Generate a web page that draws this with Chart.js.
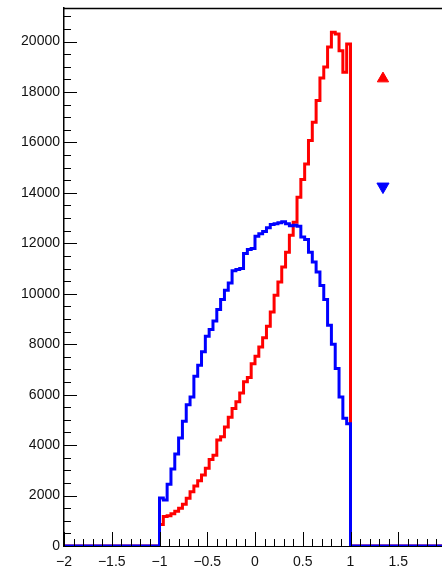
<!DOCTYPE html>
<html lang="en">
<head>
    <meta charset="UTF-8">
    <title>Histogram</title>
    <script src="https://cdn.jsdelivr.net/npm/chart.js"></script>
    <style>
        html, body { margin: 0; padding: 0; overflow: hidden; background: #fff; }
        canvas { display: block; }
    </style>
</head>
<body>
    <canvas id="histChart" width="454" height="575"></canvas>

    <script>
        // histogram binning: 100 bins from -2 to 2, only [-1, 1] is filled
        const axisMin = -2;
        const axisMax = 2;
        const firstEdge = -1;
        const binWidth = 0.04;

        // bin contents, lowest bin first
        const redCounts = [
            850, 1170, 1200, 1280, 1380, 1500, 1660, 1890, 2150, 2380,
            2590, 2810, 3080, 3430, 3600, 4200, 4330, 4720, 5100, 5450,
            5720, 6070, 6510, 6680, 7230, 7520, 7890, 8260, 8710, 9280,
            9940, 10470, 11060, 11650, 12320, 12840, 13830, 14530, 15150, 16080,
            16800, 17660, 18550, 18990, 19780, 20370, 20300, 19640, 18780, 19900
        ];
        const blueCounts = [
            1900, 1820, 2450, 3050, 3650, 4280, 4950, 5600, 5910, 6730,
            7170, 7700, 8320, 8580, 8920, 9380, 9770, 10140, 10430, 10910,
            10960, 11000, 11600, 11760, 11790, 12280, 12380, 12470, 12620, 12750,
            12780, 12820, 12860, 12780, 12700, 12720, 12680, 12250, 12150, 11650,
            11260, 10860, 10330, 9770, 8750, 8000, 7040, 5910, 5060, 4850
        ];

        // the two single markers on the right
        const redMarker = { x: 1.34, y: 18530 };
        const blueMarker = { x: 1.34, y: 14250 };

        const yMax = 21330;
        const yLabels = [0, 2000, 4000, 6000, 8000, 10000, 12000, 14000, 16000, 18000, 20000];
        const xLabels = [-2, -1.5, -1, -0.5, 0, 0.5, 1, 1.5, 2];
        const fontSpec = { family: '"Liberation Sans", Arial, sans-serif', size: 14 };

        // turn bin contents into step points (x = low edge of each bin)
        function toSteps(counts) {
            const pts = [{ x: axisMin, y: 0 }];
            counts.forEach((c, i) => {
                pts.push({ x: +(firstEdge + i * binWidth).toFixed(2), y: c });
            });
            pts.push({ x: +(firstEdge + counts.length * binWidth).toFixed(2), y: 0 });
            pts.push({ x: axisMax, y: 0 });
            return pts;
        }

        function fmt(v) {
            return v < 0 ? '\u2212' + Math.abs(v) : String(v);
        }

        // ROOT style ticks pointing into the frame, plus the top frame line
        const innerTicks = {
            id: 'innerTicks',
            afterDatasetsDraw(chart) {
                const { ctx, chartArea: a, scales: { x, y } } = chart;
                ctx.save();
                ctx.strokeStyle = '#000';
                ctx.lineWidth = 1;
                ctx.beginPath();
                for (let k = -20; k <= 20; k++) {
                    const px = Math.round(x.getPixelForValue(k / 10)) + 0.5;
                    const len = k % 5 === 0 ? 14 : 7;
                    ctx.moveTo(px, a.bottom);
                    ctx.lineTo(px, a.bottom - len);
                }
                for (let v = 0; v <= yMax; v += 500) {
                    const py = Math.round(y.getPixelForValue(v)) + 0.5;
                    const len = v % 2000 === 0 ? 13 : 7;
                    ctx.moveTo(a.left, py);
                    ctx.lineTo(a.left + len, py);
                }
                ctx.stroke();
                ctx.lineWidth = 1.5;
                ctx.beginPath();
                ctx.moveTo(a.left, a.top + 0.5);
                ctx.lineTo(a.right, a.top + 0.5);
                ctx.stroke();
                ctx.restore();
            }
        };

        const ctx = document.getElementById('histChart').getContext('2d');
        new Chart(ctx, {
            type: 'line',
            data: {
                datasets: [
                    {
                        label: 'blue',
                        data: toSteps(blueCounts),
                        stepped: 'before',
                        borderColor: '#0000ff',
                        borderWidth: 3,
                        borderJoinStyle: 'miter',
                        pointRadius: 0,
                        fill: false
                    },
                    {
                        label: 'red',
                        data: toSteps(redCounts),
                        stepped: 'before',
                        borderColor: '#ff0000',
                        borderWidth: 3,
                        borderJoinStyle: 'miter',
                        pointRadius: 0,
                        fill: false
                    },
                    {
                        type: 'scatter',
                        label: 'redMarker',
                        data: [redMarker],
                        pointStyle: 'triangle',
                        pointRadius: 6.5,
                        backgroundColor: '#ff0000',
                        borderColor: '#ff0000',
                        borderWidth: 1
                    },
                    {
                        type: 'scatter',
                        label: 'blueMarker',
                        data: [blueMarker],
                        pointStyle: 'triangle',
                        rotation: 180,
                        pointRadius: 7,
                        backgroundColor: '#0000ff',
                        borderColor: '#0000ff',
                        borderWidth: 1
                    }
                ]
            },
            options: {
                responsive: false,
                animation: false,
                layout: { padding: { top: 7, right: 0, left: 0, bottom: 0 } },
                plugins: {
                    legend: { display: false },
                    tooltip: { enabled: false }
                },
                scales: {
                    x: {
                        type: 'linear',
                        min: axisMin,
                        max: axisMax,
                        grid: { display: false, drawTicks: false },
                        border: { display: true, color: '#000', width: 1 },
                        ticks: {
                            autoSkip: false,
                            maxRotation: 0,
                            padding: 8,
                            color: '#111',
                            font: fontSpec,
                            callback: (v) => fmt(v)
                        },
                        afterBuildTicks: (s) => { s.ticks = xLabels.map(v => ({ value: v })); },
                        afterFit: (s) => {
                            s.height = 29;
                            s.paddingLeft = 0;
                            s.paddingRight = 0;
                        }
                    },
                    y: {
                        type: 'linear',
                        min: 0,
                        max: yMax,
                        grid: { display: false, drawTicks: false },
                        border: { display: true, color: '#000', width: 1.5 },
                        ticks: {
                            padding: 4,
                            color: '#111',
                            font: fontSpec,
                            callback: (v) => String(v)
                        },
                        afterBuildTicks: (s) => { s.ticks = yLabels.map(v => ({ value: v })); },
                        afterFit: (s) => {
                            s.width = 64;
                            s.paddingTop = 0;
                            s.paddingBottom = 0;
                        }
                    }
                }
            },
            plugins: [innerTicks]
        });
    </script>
</body>
</html>
